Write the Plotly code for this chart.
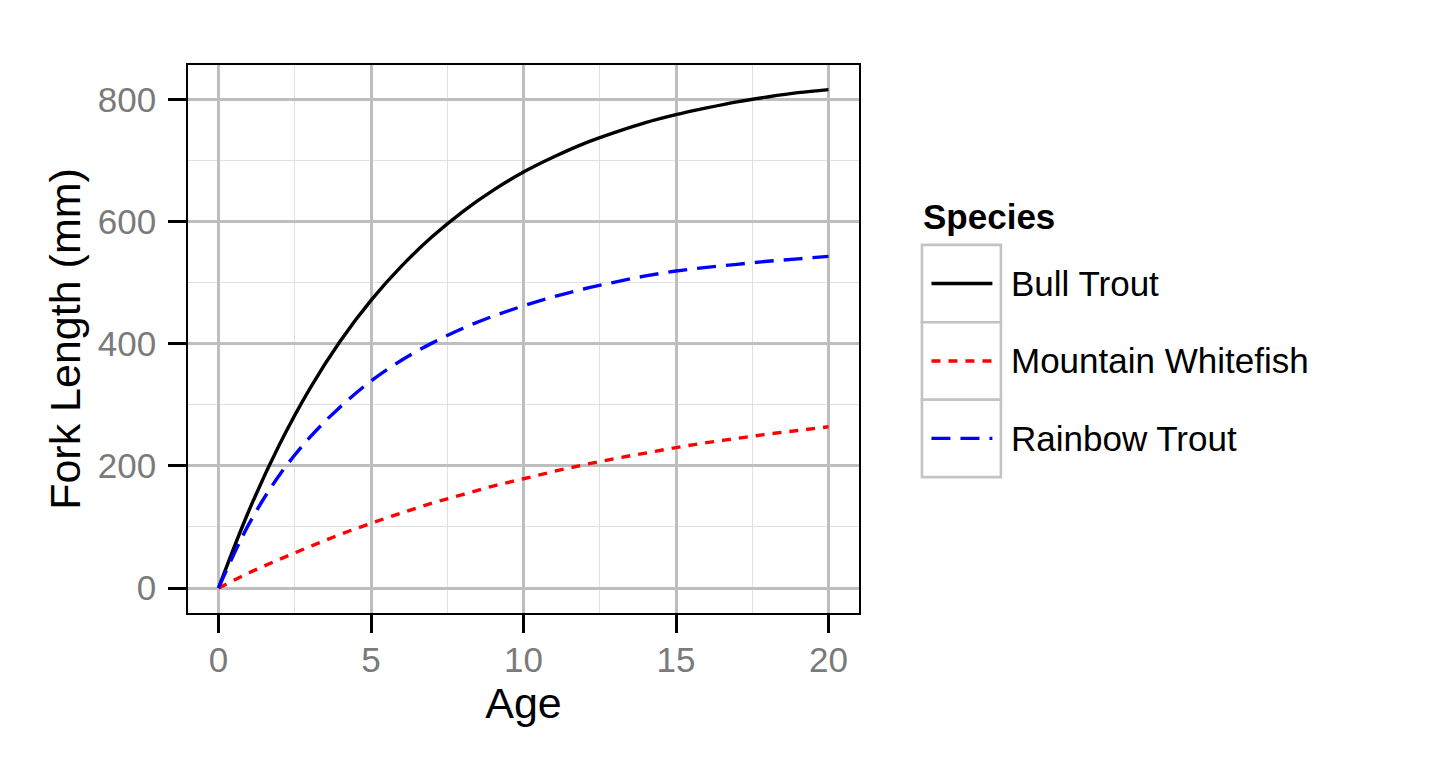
import plotly.graph_objects as go

# ---- data ----
ages = list(range(0, 21))
species = ["Bull Trout", "Mountain Whitefish", "Rainbow Trout"]
bull_trout = [0, 127, 235, 327, 405, 471, 527, 575, 616, 651, 681,
              706, 728, 746, 762, 775, 786, 796, 804, 811, 816]
mountain_whitefish = [0, 25, 47, 68, 88, 106, 123, 139, 153, 167, 179,
                      191, 202, 212, 221, 230, 238, 245, 252, 258, 264]
rainbow_trout = [0, 105, 185, 247, 297, 339, 373, 401, 425, 445, 462,
                 477, 490, 501, 511, 519, 525, 530, 535, 539, 543]
x_ticks = [0, 5, 10, 15, 20]
y_ticks = [0, 200, 400, 600, 800]

series = [bull_trout, mountain_whitefish, rainbow_trout]
colors = ["#000000", "#FF0000", "#0000FF"]
dashes = ["solid", "9px,8px", "19px,10px"]

FONT = "Liberation Sans, Arial, Helvetica, sans-serif"
OFF = 8  # page body margin offset
W, H = 1440 - OFF, 768 - OFF
# desired panel edges in screenshot pixels
L, R, T, B = 187.5, 859.0, 65.0, 613.5

fig = go.Figure()
for name, ys, c, d in zip(species, series, colors, dashes):
    fig.add_trace(go.Scatter(
        x=ages, y=ys, name=name, mode="lines",
        line=dict(color=c, width=3.4, dash=d, shape="spline", smoothing=1.0),
        showlegend=False, hoverinfo="skip"))

axis_common = dict(
    showgrid=True, gridcolor="#bebebe", gridwidth=2.6,
    zeroline=False, showline=True, mirror=True, linecolor="#000000", linewidth=1.5,
    ticks="outside", ticklen=18, tickwidth=2.6, tickcolor="#000000",
    tickfont=dict(family=FONT, size=35, color="#7a7a7a"),
    title_font=dict(family=FONT, size=43, color="#000000"),
)

fig.update_layout(
    width=W, height=H,
    paper_bgcolor="#ffffff", plot_bgcolor="#ffffff",
    margin=dict(l=L - OFF, r=W - (R - OFF), t=T - OFF, b=H - (B - OFF), pad=0),
    font=dict(family=FONT),
    xaxis=dict(range=[-1, 21], tickvals=x_ticks, ticktext=[str(v) for v in x_ticks],
               ticklabelstandoff=-3,
               title=dict(text="Age", standoff=10),
               minor=dict(tickvals=[2.5, 7.5, 12.5, 17.5], showgrid=True,
                          gridcolor="#e0e0e0", gridwidth=1.3, ticks=""),
               **axis_common),
    yaxis=dict(range=[-40.8, 856.3], tickvals=y_ticks, ticktext=[str(v) for v in y_ticks],
               ticklabelstandoff=5,
               title=dict(text="Fork Length (mm)", standoff=4),
               minor=dict(tickvals=[100, 300, 500, 700], showgrid=True,
                          gridcolor="#e0e0e0", gridwidth=1.3, ticks=""),
               **axis_common),
)

# ---- manual legend (ggplot-style keys with boxes) ----
pw, ph = R - L, B - T
def px(xp):
    return (xp - L) / pw
def py(yp):
    return (B - yp) / ph

fig.add_annotation(xref="paper", yref="paper", x=px(921), y=py(217),
                   xanchor="left", yanchor="middle", showarrow=False,
                   text="<b>Species</b>", font=dict(family=FONT, size=35, color="#000000"))

box_top = 245.0
box_h = 77.5
for i, (name, c, d) in enumerate(zip(species, colors, dashes)):
    y0 = box_top + i * box_h
    y1 = y0 + box_h
    yc = (y0 + y1) / 2
    fig.add_shape(type="rect", xref="paper", yref="paper",
                  x0=px(922), x1=px(1001), y0=py(y1), y1=py(y0),
                  line=dict(color="#c3c3c3", width=2.6), fillcolor="#ffffff", layer="above")
    fig.add_shape(type="line", xref="paper", yref="paper",
                  x0=px(931.5), x1=px(992.5), y0=py(yc), y1=py(yc),
                  line=dict(color=c, width=3.4, dash=d), layer="above")
    fig.add_annotation(xref="paper", yref="paper", x=px(1009), y=py(yc),
                       xanchor="left", yanchor="middle", showarrow=False,
                       text=name, font=dict(family=FONT, size=35, color="#000000"))

fig.write_html("out.html")
